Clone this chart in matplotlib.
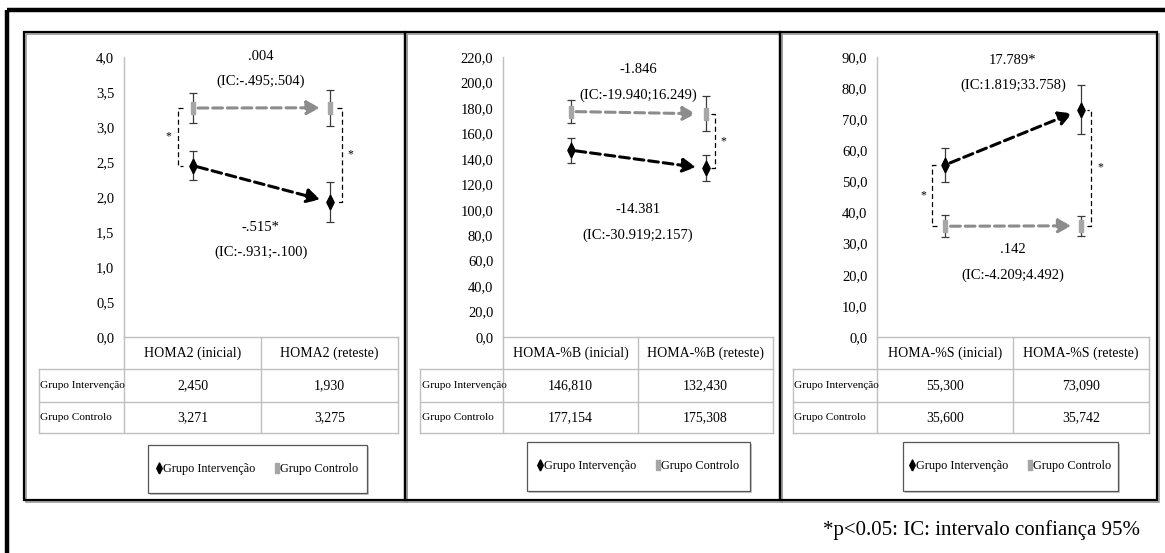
import matplotlib
matplotlib.use('Agg')
import matplotlib.pyplot as plt
from matplotlib.lines import Line2D
from matplotlib.patches import Rectangle
from matplotlib.transforms import Affine2D

plt.rcParams['font.family'] = ['Liberation Serif', 'DejaVu Serif']

W, H = 1165, 553

# ---- data ----
groups = ['Grupo Intervenção', 'Grupo Controlo']

cats_homa2 = ['HOMA2 (inicial)', 'HOMA2 (reteste)']
interv_homa2 = [2.450, 1.930]
ctrl_homa2 = [3.271, 3.275]
interv_err_homa2 = [0.21, 0.28]
ctrl_err_homa2 = [0.21, 0.26]
note_ctrl_homa2 = ['.004', '(IC:-.495;.504)']
note_int_homa2 = ['-.515*', '(IC:-.931;-.100)']

cats_b = ['HOMA-%B (inicial)', 'HOMA-%B (reteste)']
interv_b = [146.810, 132.430]
ctrl_b = [177.154, 175.308]
interv_err_b = [9.8, 10.2]
ctrl_err_b = [9.4, 13.7]
note_ctrl_b = ['-1.846', '(IC:-19.940;16.249)']
note_int_b = ['-14.381', '(IC:-30.919;2.157)']

cats_s = ['HOMA-%S (inicial)', 'HOMA-%S (reteste)']
interv_s = [55.300, 73.090]
ctrl_s = [35.600, 35.742]
interv_err_s = [5.5, 7.9]
ctrl_err_s = [3.5, 3.2]
note_int_s = ['17.789*', '(IC:1.819;33.758)']
note_ctrl_s = ['.142', '(IC:-4.209;4.492)']

footnote = '*p<0.05: IC: intervalo confiança 95%'

# ---- layout (pixel coords, y down) ----
panels = [
    dict(frame=(24, 405), xs=(39, 124, 261, 398), legend=(148, 367, 445, 493),
         cats=cats_homa2, interv=interv_homa2, ctrl=ctrl_homa2,
         ie=interv_err_homa2, ce=ctrl_err_homa2, ymax=4.0, step=0.5,
         notes=[(note_ctrl_homa2, 4.0, 3.65), (note_int_homa2, 1.56, 1.21)],
         brackets=[(0, -15, -10), (1, 12, 7)]),
    dict(frame=(405, 780), xs=(420, 503, 638, 773), legend=(527, 750, 442, 491),
         cats=cats_b, interv=interv_b, ctrl=ctrl_b,
         ie=interv_err_b, ce=ctrl_err_b, ymax=220.0, step=20.0,
         notes=[(note_ctrl_b, 210, 190), (note_int_b, 100, 80)],
         brackets=[(1, 9, 5)]),
    dict(frame=(780, 1157), xs=(793, 877, 1013, 1149), legend=(903, 1118, 442, 491),
         cats=cats_s, interv=interv_s, ctrl=ctrl_s,
         ie=interv_err_s, ce=ctrl_err_s, ymax=90.0, step=10.0,
         notes=[(note_int_s, 89, 81), (note_ctrl_s, 28, 20)],
         brackets=[(0, -13, -8), (1, 10, 6)]),
]
Y_TOP, Y_AX, ROWS = 57, 337, (369, 402, 433)
FR_TOP, FR_BOT = 32, 500

grid_c = '#BFBFBF'
gray_line = '#8C8C8C'
gray_mark = '#A6A6A6'
sq = [(-0.34, -1), (0.34, -1), (0.34, 1), (-0.34, 1), (-0.34, -1)]
dia = [(0, -1), (0.5, 0), (0, 1), (-0.5, 0), (0, -1)]

fig = plt.figure(figsize=(W / 100, H / 100), dpi=100)
pix = Affine2D().scale(1 / W, -1 / H).translate(0, 1) + fig.transFigure

# outer frame
fig.add_artist(Rectangle((7, 10), 1175, 560, fill=False, ec='black', lw=3.2, transform=pix))

for p in panels:
    f0, f1 = p['frame']
    fig.add_artist(Rectangle((f0 + 1.5, FR_TOP + 1.5), f1 - f0, FR_BOT - FR_TOP, fill=False,
                             ec='#9A9A9A', lw=1.2, transform=pix))
    fig.add_artist(Rectangle((f0, FR_TOP), f1 - f0, FR_BOT - FR_TOP, fill=False,
                             ec='black', lw=1.6, transform=pix))
    x0, x1, x2, x3 = p['xs']

    ax = fig.add_axes([x1 / W, 1 - Y_AX / H, (x3 - x1) / W, (Y_AX - Y_TOP) / H])
    ax.set_xlim(-0.5, 1.5)
    ax.set_ylim(0, p['ymax'])
    ax.patch.set_alpha(0)
    for s in ['top', 'right', 'bottom']:
        ax.spines[s].set_visible(False)
    ax.spines['left'].set_color(grid_c)
    ax.spines['left'].set_linewidth(1)
    ticks = [i * p['step'] for i in range(int(round(p['ymax'] / p['step'])) + 1)]
    ax.set_yticks(ticks)
    ax.set_yticklabels([f'{t:.1f}'.replace('.', ',') for t in ticks], fontsize=10.5)
    ax.set_xticks([])
    ax.tick_params(axis='y', length=0, pad=7)

    xs = [0, 1]
    ax.errorbar(xs, p['interv'], yerr=p['ie'], fmt='none', ecolor='#3A3A3A',
                elinewidth=0.9, capsize=3, capthick=0.9, zorder=3)
    ax.errorbar(xs, p['ctrl'], yerr=p['ce'], fmt='none', ecolor='#3A3A3A',
                elinewidth=0.9, capsize=3, capthick=0.9, zorder=3)
    ax.plot(xs, p['interv'], ls='none', marker=dia, ms=10.5, color='black', zorder=5)
    ax.plot(xs, p['ctrl'], ls='none', marker=sq, ms=9, color=gray_mark, zorder=5)

    for vals, c in [(p['ctrl'], gray_line), (p['interv'], 'black')]:
        ax.annotate('', xy=(1, vals[1]), xytext=(0, vals[0]),
                    arrowprops=dict(arrowstyle='-|>,head_length=0.55,head_width=0.3',
                                    color=c, lw=2.2, linestyle=(0, (3.2, 1.6)),
                                    shrinkA=4, shrinkB=7, mutation_scale=14),
                    zorder=4)

    colw = (x3 - x1) / 2
    for ci, bx, tx in p['brackets']:
        bxd = ci + bx / colw
        txd = ci + tx / colw
        ya, yb = p['ctrl'][ci], p['interv'][ci]
        ax.plot([txd, bxd, bxd, txd], [ya, ya, yb, yb], color='black', lw=0.9,
                ls=(0, (4, 2.5)), zorder=2)
        sx = ci + (bx + (9 if bx > 0 else -9)) / colw
        ax.text(sx, (ya + yb) / 2, '*', ha='center', va='center', fontsize=8.5)

    for lines, ya, yb in p['notes']:
        ax.text(0.5, ya, lines[0], ha='center', va='center', fontsize=10.5)
        ax.text(0.5, yb, lines[1], ha='center', va='center', fontsize=10.5)

    # data table
    kw = dict(color=grid_c, lw=1, transform=pix)
    fig.add_artist(Line2D([x1, x3], [Y_AX, Y_AX], **kw))
    for y in ROWS:
        fig.add_artist(Line2D([x0, x3], [y, y], **kw))
    fig.add_artist(Line2D([x0, x0], [ROWS[0], ROWS[2]], **kw))
    for x in (x1, x2, x3):
        fig.add_artist(Line2D([x, x], [Y_AX, ROWS[2]], **kw))
    cx = [(x1 + x2) / 2, (x2 + x3) / 2]
    for j, cat in enumerate(p['cats']):
        fig.text(cx[j], (Y_AX + ROWS[0]) / 2, cat, ha='center', va='center',
                 fontsize=10, transform=pix)
    for r, (g, vals) in enumerate(zip(groups, [p['interv'], p['ctrl']])):
        yc = (ROWS[r] + ROWS[r + 1]) / 2
        fig.text(x0 + 1.5, yc, g, ha='left', va='center', fontsize=8.1, transform=pix)
        for j, v in enumerate(vals):
            fig.text(cx[j], yc, f'{v:.3f}'.replace('.', ','), ha='center',
                     va='center', fontsize=10, transform=pix)

    # legend box
    l0, l1, lt, lb = p['legend']
    fig.add_artist(Rectangle((l0 + 2, lt + 2), l1 - l0, lb - lt, fc='#C8C8C8',
                             ec='none', transform=pix))
    fig.add_artist(Rectangle((l0, lt), l1 - l0, lb - lt, fc='white',
                             ec='#555555', lw=0.9, transform=pix))
    handles = [Line2D([], [], ls='none', marker=dia, ms=8, color='black'),
               Line2D([], [], ls='none', marker=sq, ms=7, color=gray_mark)]
    cxl = ((l0 + l1) / 2) / W
    cyl = 1 - ((lt + lb) / 2) / H
    fig.legend(handles, groups, loc='center', bbox_to_anchor=(cxl, cyl),
               ncol=2, frameon=False, fontsize=8.8, handlelength=0.4,
               handletextpad=0.1, columnspacing=1.6)

fig.text(1140, 530, footnote, ha='right', va='center', fontsize=15, transform=pix)

fig.savefig('out.png', dpi=100)
